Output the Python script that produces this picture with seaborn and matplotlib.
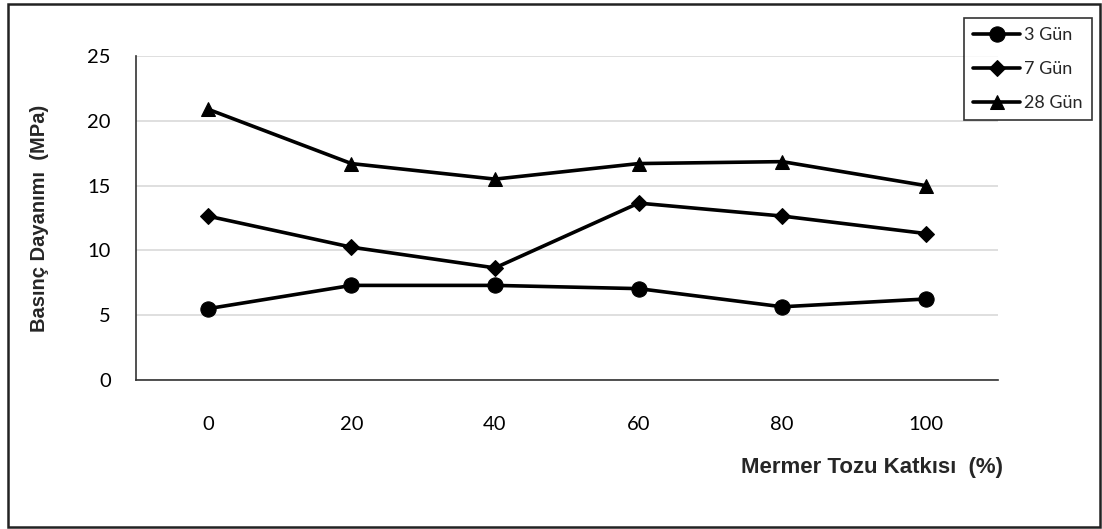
import matplotlib
matplotlib.use("Agg")
import matplotlib.pyplot as plt
import seaborn as sns
import pandas as pd
from matplotlib.patches import Rectangle

# Compressive strength (MPa) versus marble powder content (%)
katki = ["0", "20", "40", "60", "80", "100"]
gun_3 = [5.5, 7.3, 7.3, 7.05, 5.65, 6.25]
gun_7 = [12.65, 10.25, 8.65, 13.65, 12.65, 11.3]
gun_28 = [20.9, 16.7, 15.5, 16.7, 16.85, 15.0]
seri = ["3 Gün", "7 Gün", "28 Gün"]

df = pd.DataFrame({
    "katki": katki * 3,
    "deger": gun_3 + gun_7 + gun_28,
    "seri": [seri[0]] * 6 + [seri[1]] * 6 + [seri[2]] * 6,
})

sns.set_style("white")
plt.rcParams["font.family"] = ["Lato", "DejaVu Sans"]

fig = plt.figure(figsize=(11.02, 5.29), dpi=100)
W, H = 1102, 529
ax = fig.add_axes([136 / W, (H - 380) / H, (997.6 - 136) / W, (380 - 56) / H])

markers = {"3 Gün": "o", "7 Gün": "D", "28 Gün": "^"}
sizes = {"3 Gün": 11, "7 Gün": 8, "28 Gün": 10}
for s in seri:
    sub = df[df["seri"] == s]
    sns.lineplot(data=sub, x="katki", y="deger", ax=ax, color="black",
                 linewidth=2.6, marker=markers[s], markersize=sizes[s],
                 markeredgecolor="black", markerfacecolor="black",
                 label=s, sort=False, legend=False)

ax.set_xlim(-0.5, 5.5)
ax.set_ylim(0, 25)
ax.set_yticks([0, 5, 10, 15, 20, 25])
ax.yaxis.grid(True, color="#d9d9d9", linewidth=1.2)
ax.xaxis.grid(False)
ax.set_axisbelow(True)
for side in ["top", "right"]:
    ax.spines[side].set_visible(False)
for side in ["left", "bottom"]:
    ax.spines[side].set_color("#333333")
    ax.spines[side].set_linewidth(1.2)
ax.tick_params(axis="both", length=0, labelsize=14.5, colors="black")
ax.tick_params(axis="x", pad=26)
ax.tick_params(axis="y", pad=18)
ax.set_xlabel("")
ax.set_ylabel("")

fig.text(1003 / W, 1 - 467 / H, "Mermer Tozu Katkısı  (%)", ha="right", va="center",
         fontsize=16, fontweight="bold", family=["Liberation Sans", "DejaVu Sans"])
fig.text(40 / W, 1 - 218 / H, "Basınç Dayanımı  (MPa)", ha="center", va="center",
         rotation=90, fontsize=14.5, fontweight="bold",
         family=["Liberation Sans", "DejaVu Sans"])

handles = ax.get_lines()[:3]
leg = fig.legend(handles=handles, labels=seri, loc="upper left",
                 bbox_to_anchor=(964 / W, 1 - 18 / H), frameon=True,
                 fancybox=False, edgecolor="black", fontsize=13,
                 handlelength=2.6, handletextpad=0.25, labelspacing=1.0,
                 borderpad=0.5, borderaxespad=0)
leg.get_frame().set_linewidth(1.2)

# Outer chart frame
fig.patches.append(Rectangle((8 / W, 2 / H), (1100 - 8) / W, (527 - 4) / H,
                             transform=fig.transFigure, fill=False,
                             edgecolor="#222222", linewidth=1.8))

fig.savefig("out.png", dpi=100)
